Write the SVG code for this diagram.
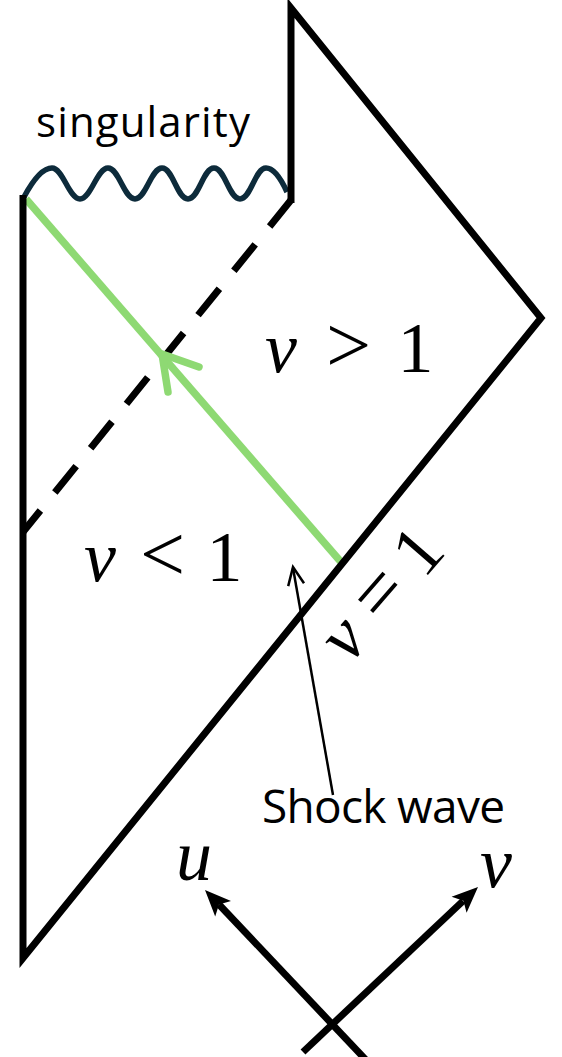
<svg xmlns="http://www.w3.org/2000/svg" width="562" height="1057" viewBox="0 0 562 1057">
  <style>
    .blk { fill: none; stroke: #000; stroke-width: 7; stroke-linejoin: miter; stroke-miterlimit: 10; }
    .green { fill: none; stroke: #8ed973; stroke-width: 7.5; }
    .sans { font-family: "Open Sans", "Noto Sans", "Liberation Sans", sans-serif; fill: #000; }
    .math { font-family: "Liberation Serif", "DejaVu Serif", serif; fill: #000; }
    .it { font-style: italic; font-size: 72px; }
    .num { font-size: 72px; }
    .rel { font-size: 80px; }
  </style>
  <rect width="562" height="1057" fill="#fff"/>

  <g id="horizon">
    <line x1="291" y1="200" x2="23" y2="532" class="blk" stroke-dasharray="34 23"/>
  </g>

  <g id="singularity">
    <path d="M24,197 C32,182 42,168 52,168 C63,168 69,199 80,199 C91,199 97,168 108,168 C119,168 124,199 135,199 C146,199 151,168 162,168 C173,168 177,199 188,199 C199,199 203,168 214,168 C225,168 229,199 240,199 C251,199 255,168 266,168 C275,168 282,181 287,192" fill="none" stroke="#0d2b3b" stroke-width="5.5"/>
    <text class="sans" x="36" y="137" font-size="42" textLength="214" lengthAdjust="spacing">singularity</text>
  </g>

  <g id="shock-path">
    <line x1="341" y1="562" x2="26" y2="199" class="green"/>
    <polyline points="199,367 162,354 168,392" class="green" stroke-linecap="round" stroke-linejoin="round"/>
  </g>

  <g id="spacetime">
    <polyline points="23,195 23,958 541,318 291,8 291,203" class="blk"/>
  </g>

  <g id="labels">
    <text class="math" y="372"><tspan class="it" x="281" text-anchor="middle">v</tspan><tspan class="rel" x="348.5" text-anchor="middle">&gt;</tspan><tspan class="num" x="415.5" text-anchor="middle">1</tspan></text>
    <text class="math" y="581"><tspan class="it" x="100" text-anchor="middle">v</tspan><tspan class="rel" x="162.5" text-anchor="middle">&lt;</tspan><tspan class="num" x="224.5" text-anchor="middle">1</tspan></text>
    <text class="math" transform="translate(360,653) rotate(-49)" y="0"><tspan class="it" x="0" text-anchor="middle">v</tspan><tspan class="rel" x="57.5" text-anchor="middle">=</tspan><tspan class="num" x="115" text-anchor="middle">1</tspan></text>
  </g>

  <g id="shock-label">
    <text class="sans" x="262" y="823" font-size="46" textLength="243" lengthAdjust="spacing">Shock wave</text>
  </g>

  <g id="connectors">
    <line x1="333" y1="795" x2="293" y2="568" stroke="#000" stroke-width="2.5"/>
    <polyline points="288.2,586.1 293,567 304,583.3" fill="none" stroke="#000" stroke-width="2.5" stroke-linejoin="miter"/>
  </g>

  <g id="axes">
    <line x1="366" y1="1060" x2="219" y2="904.5" stroke="#000" stroke-width="7"/>
    <polygon points="205,890 231,901 219,904.5 215.2,916.4" fill="#000"/>
    <line x1="303" y1="1052" x2="463" y2="901" stroke="#000" stroke-width="7"/>
    <polygon points="478,887 466.6,912.8 463.4,900.7 451.6,896.8" fill="#000"/>
    <text class="math it" x="194" y="880" text-anchor="middle" font-size="64">u</text>
    <text class="math it" x="496" y="887" text-anchor="middle" font-size="64">v</text>
  </g>
</svg>
